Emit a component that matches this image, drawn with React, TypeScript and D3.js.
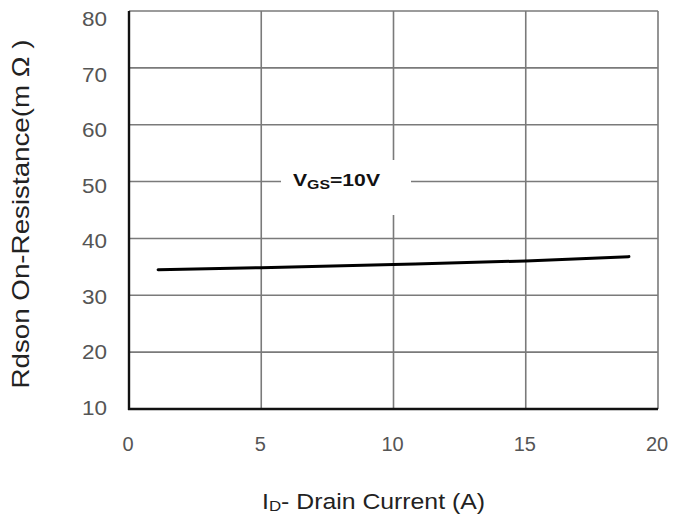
import React from "react";
import * as d3 from "d3";

const currentA = [1.1, 5, 10, 15, 18.9];
const rdsonMOhm = [34.5, 34.85, 35.4, 36.05, 36.8];
const xTicks = [0, 5, 10, 15, 20];
const yTicks = [10, 20, 30, 40, 50, 60, 70, 80];

const W = 674, H = 517;
const M = { left: 129, right: 658, top: 11, bottom: 409 };

export default function App() {
  const x = d3.scaleLinear().domain([0, 20]).range([M.left, M.right]);
  const y = d3.scaleLinear().domain([10, 80]).range([M.bottom, M.top]);
  const yLab = d3.scaleLinear().domain([10, 80]).range([408, 19]);
  const pts: [number, number][] = currentA.map((c, i) => [c, rdsonMOhm[i]]);
  const line = d3.line<[number, number]>().x(d => x(d[0])).y(d => y(d[1])).curve(d3.curveMonotoneX);
  const font = "Arial, 'Liberation Sans', sans-serif";
  return (
    <svg width={W} height={H} style={{ position: "absolute", left: 0, top: 0, background: "#fff" }}>
      <rect width={W} height={H} fill="#fff" />
      {xTicks.map(t => (
        <line key={"gx" + t} x1={x(t)} x2={x(t)} y1={y(80)} y2={y(10)} stroke="#7a7a7a" strokeWidth={1.6} />
      ))}
      {yTicks.map(t => (
        <line key={"gy" + t} x1={x(0)} x2={x(20)} y1={y(t)} y2={y(t)} stroke="#7a7a7a" strokeWidth={1.6} />
      ))}
      <rect x={281} y={160} width={130} height={55} fill="#fff" />
      <line x1={x(0)} x2={x(0)} y1={y(80)} y2={y(10) + 1} stroke="#111" strokeWidth={2.4} />
      <line x1={x(0) - 1} x2={x(20)} y1={y(10)} y2={y(10)} stroke="#111" strokeWidth={2.4} />
      <path d={line(pts) || ""} fill="none" stroke="#000" strokeWidth={3} strokeLinecap="round" />
      <text x={293} y={186} fontFamily={font} fontWeight="bold" fontSize={16} fill="#111" textLength={87} lengthAdjust="spacingAndGlyphs">
        V<tspan fontSize={12} dy={3}>GS</tspan><tspan dy={-3}>=10V</tspan>
      </text>
      {yTicks.map(t => (
        <text key={"yl" + t} x={107} y={yLab(t) + 7} textAnchor="end" fontFamily={font} fontSize={20} fill="#555" textLength={25} lengthAdjust="spacingAndGlyphs">{t}</text>
      ))}
      {xTicks.map(t => (
        <text key={"xl" + t} x={x(t) - 1} y={451} textAnchor="middle" fontFamily={font} fontSize={20} fill="#555">{t}</text>
      ))}
      <text transform={`translate(29,214) rotate(-90)`} textAnchor="middle" fontFamily={font} fontSize={24} fill="#222" textLength={349} lengthAdjust="spacingAndGlyphs">
        Rdson On-Resistance(m Ω )
      </text>
      <text x={262} y={509} fontFamily={font} fontSize={22} fill="#222" textLength={223} lengthAdjust="spacingAndGlyphs">
        I<tspan fontSize={15} dy={2}>D</tspan><tspan dy={-2}>- Drain Current (A)</tspan>
      </text>
    </svg>
  );
}
